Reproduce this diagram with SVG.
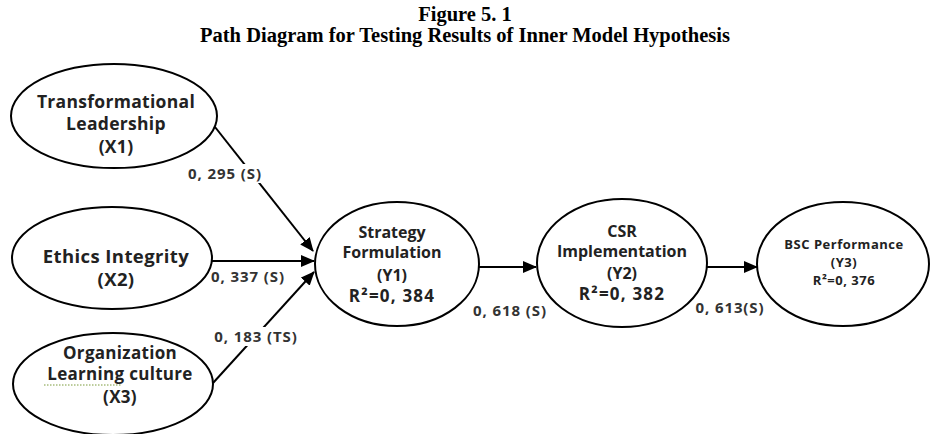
<svg xmlns="http://www.w3.org/2000/svg" width="931" height="434" viewBox="0 0 931 434">
<style>
.title{font-family:"Liberation Serif","Times New Roman",serif;font-weight:bold;font-size:20.5px;fill:#000;text-anchor:middle}
.node{fill:#fff;stroke:#000;stroke-width:2}
.t{font-family:"Open Sans","Noto Sans",sans-serif;font-weight:700;font-size:16px;fill:#222;text-anchor:middle}
.t1{font-size:17.5px;letter-spacing:0.3px}
.t2{font-size:18.5px;letter-spacing:0.4px}
.t3{font-size:17px;letter-spacing:0.3px}
.r{font-size:17px;letter-spacing:1.2px}
.s{font-family:"Open Sans","Noto Sans",sans-serif;font-weight:700;font-size:13px;letter-spacing:0.5px;fill:#222;text-anchor:middle}
.lbl{font-family:"Open Sans","Noto Sans",sans-serif;font-weight:700;font-size:15px;letter-spacing:0.9px;fill:#333;text-anchor:middle}
.edge{stroke:#000;stroke-width:2;fill:none;marker-end:url(#ah)}
.bg{fill:#fff}
</style>
<defs>
<marker id="ah" markerUnits="userSpaceOnUse" markerWidth="14" markerHeight="12" refX="13" refY="6" orient="auto">
<path d="M0,0 L14,6 L0,12 Z" fill="#000"/>
</marker>
</defs>
<rect width="931" height="434" fill="#fff"/>
<text class="title" x="465" y="21">Figure 5. 1</text>
<text class="title" x="465" y="42">Path Diagram for Testing Results of Inner Model Hypothesis</text>

<g id="connectors">
<line class="edge" x1="215" y1="127" x2="313" y2="251"/>
<line class="edge" x1="212" y1="261" x2="314" y2="261"/>
<line class="edge" x1="213" y1="383" x2="314" y2="272"/>
<line class="edge" x1="479" y1="267" x2="536" y2="267"/>
<line class="edge" x1="707" y1="267" x2="757" y2="267"/>
<rect class="bg" x="186" y="164" width="78" height="19"/>
<text class="lbl" x="225" y="179">0, 295 (S)</text>
<text class="lbl" x="248" y="282">0, 337 (S)</text>
<rect class="bg" x="212" y="327" width="88" height="19"/>
<text class="lbl" x="256" y="342">0, 183 (TS)</text>
<text class="lbl" x="510" y="316">0, 618 (S)</text>
<text class="lbl" x="730" y="313">0, 613(S)</text>
</g>

<g id="X1">
<ellipse class="node" cx="114" cy="116" rx="103" ry="52"/>
<text class="t t1" x="116" y="108">Transformational</text>
<text class="t t1" x="116" y="130">Leadership</text>
<text class="t t1" x="116" y="153">(X1)</text>
</g>

<g id="X2">
<ellipse class="node" cx="112" cy="258" rx="100" ry="51"/>
<text class="t t2" x="116" y="263">Ethics Integrity</text>
<text class="t t2" x="116" y="286">(X2)</text>
</g>

<g id="X3">
<ellipse class="node" cx="113" cy="384" rx="100" ry="51"/>
<text class="t t3" x="120" y="359">Organization</text>
<text class="t t3" x="120" y="380">Learning culture</text>
<text class="t t3" x="120" y="403">(X3)</text>
<line x1="44" y1="385" x2="122" y2="385" stroke="#7a9a3a" stroke-width="1" stroke-dasharray="1.5,1.5"/>
</g>

<g id="Y1">
<ellipse class="node" cx="397" cy="264" rx="82" ry="62"/>
<text class="t" x="392" y="238">Strategy</text>
<text class="t" x="392" y="258">Formulation</text>
<text class="t" x="392" y="281">(Y1)</text>
<text class="t r" x="392" y="302">R²=0, 384</text>
</g>

<g id="Y2">
<ellipse class="node" cx="622" cy="263" rx="85" ry="64"/>
<text class="t" x="622" y="237">CSR</text>
<text class="t" x="622" y="257">Implementation</text>
<text class="t" x="622" y="279">(Y2)</text>
<text class="t r" x="622" y="300">R²=0, 382</text>
</g>

<g id="Y3">
<ellipse class="node" cx="843" cy="264" rx="86" ry="62"/>
<text class="s" x="844" y="249">BSC Performance</text>
<text class="s" x="844" y="267">(Y3)</text>
<text class="s" x="844" y="285">R²=0, 376</text>
</g>
</svg>
